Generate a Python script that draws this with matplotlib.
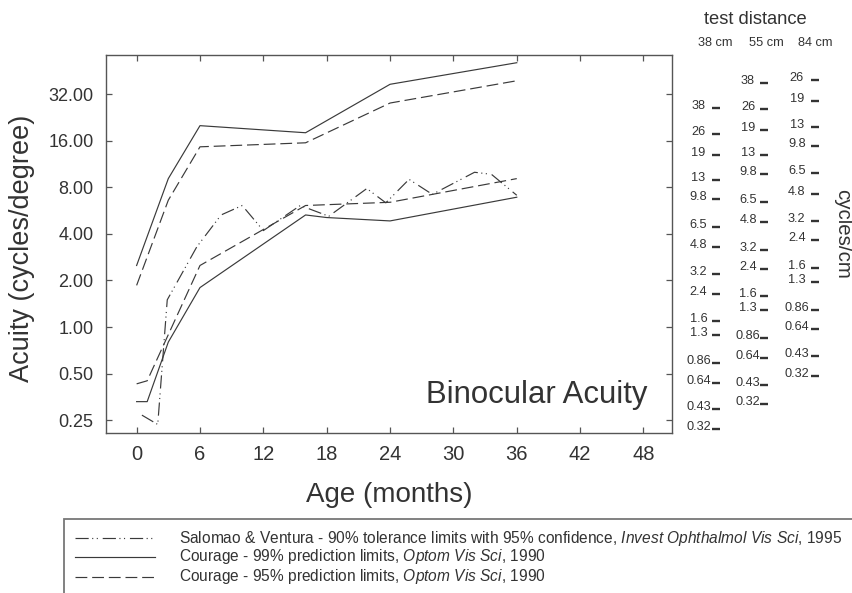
import numpy as np
import matplotlib
matplotlib.use("Agg")
import matplotlib.pyplot as plt
from matplotlib.lines import Line2D
from matplotlib.patches import Rectangle
import matplotlib.transforms as mtransforms

# ---------------- data ----------------
x_sv = [0.5, 2, 2.9, 5.7, 8, 10, 12, 15.5, 18.2, 21.8, 23.6, 25.8, 28, 32, 33.6, 36]
y_sv = [0.27, 0.235, 1.5, 3.3, 5.3, 6.1, 4.2, 6.1, 5.2, 7.85, 6.35, 9.0, 7.2, 10.0, 9.7, 7.1]

x_c99_up = [0, 3, 6, 16, 24, 36]
y_c99_up = [2.5, 9.1, 20.0, 18.0, 37.0, 51.0]
x_c99_lo = [0, 1, 3, 6, 16, 18, 24, 36]
y_c99_lo = [0.33, 0.33, 0.8, 1.8, 5.3, 5.1, 4.85, 6.9]

x_c95_up = [0, 3, 6, 16, 24, 36]
y_c95_up = [1.86, 6.6, 14.6, 15.5, 28.0, 39.0]
x_c95_lo = [0, 1, 6, 16, 24, 36]
y_c95_lo = [0.43, 0.45, 2.5, 6.1, 6.4, 9.1]

x_ticks = [0, 6, 12, 18, 24, 30, 36, 42, 48]
y_ticks = [0.25, 0.5, 1, 2, 4, 8, 16, 32]

distances = [38, 55, 84]
cm_38 = [38, 26, 19, 13, 9.8, 6.5, 4.8, 3.2, 2.4, 1.6, 1.3, 0.86, 0.64, 0.43, 0.32]
cm_55 = [38, 26, 19, 13, 9.8, 6.5, 4.8, 3.2, 2.4, 1.6, 1.3, 0.86, 0.64, 0.43, 0.32]
cm_84 = [26, 19, 13, 9.8, 6.5, 4.8, 3.2, 2.4, 1.6, 1.3, 0.86, 0.64, 0.43, 0.32]

legend_labels = [
    r"Salomao & Ventura - 90% tolerance limits with 95% confidence, $\mathit{Invest\ Ophthalmol\ Vis\ Sci}$, 1995",
    r"Courage - 99% prediction limits, $\mathit{Optom\ Vis\ Sci}$, 1990",
    r"Courage - 95% prediction limits, $\mathit{Optom\ Vis\ Sci}$, 1990",
]

# ---------------- style ----------------
plt.rcParams['font.family'] = ['Liberation Sans', 'DejaVu Sans']
plt.rcParams['mathtext.fontset'] = 'custom'
plt.rcParams['mathtext.rm'] = 'Liberation Sans'
plt.rcParams['mathtext.it'] = 'Liberation Sans:italic'
plt.rcParams['lines.scale_dashes'] = False

W, H = 852, 593
TXT = '#333333'
LC = '#3a3a3a'
LW = 0.85
ls_sv = (0, (9.5, 2.5, 0.8, 2.5, 0.8, 3.5))
ls_solid = '-'
ls_dash = (0, (8.5, 3.5))


def fx(px):
    return px / W


def fy(py):
    return 1 - py / H


fig = plt.figure(figsize=(W / 100, H / 100), dpi=100)
ax = fig.add_axes([fx(106), fy(433), (672 - 106) / W, (433 - 55) / H])

ax.plot(x_sv, y_sv, color=LC, lw=LW, linestyle=ls_sv)
ax.plot(x_c99_up, y_c99_up, color=LC, lw=LW, linestyle=ls_solid)
ax.plot(x_c99_lo, y_c99_lo, color=LC, lw=LW, linestyle=ls_solid)
ax.plot(x_c95_up, y_c95_up, color=LC, lw=LW, linestyle=ls_dash)
ax.plot(x_c95_lo, y_c95_lo, color=LC, lw=LW, linestyle=ls_dash)

ax.set_yscale('log', base=2)
ax.set_xlim(-2.9, 50.7)
ax.set_ylim(0.207, 57.2)
ax.set_xticks(x_ticks)
ax.set_xticklabels([str(t) for t in x_ticks])
ax.set_yticks(y_ticks)
ax.set_yticklabels([f"{t:.2f}" for t in y_ticks])
ax.minorticks_off()
ax.tick_params(axis='both', which='major', direction='in', length=4.5,
               width=0.9, color='#555555', labelcolor=TXT,
               top=True, right=True)
ax.tick_params(axis='x', labelsize=14.5, pad=9)
ax.tick_params(axis='y', labelsize=13, pad=9)
for sp in ax.spines.values():
    sp.set_color('#555555')
    sp.set_linewidth(1.0)

fig.text(fx(389), fy(495), 'Age (months)', fontsize=20, color=TXT,
         ha='center', va='center')
fig.text(fx(22), fy(248), 'Acuity (cycles/degree)', rotation=90, fontsize=19.5,
         color=TXT, ha='center', va='center')

fig.text(fx(648), fy(395), 'Binocular Acuity', fontsize=22.4, color=TXT,
         ha='right', va='center')

# ---------------- right-hand cycles/cm scales ----------------
blend = mtransforms.blended_transform_factory(fig.transFigure, ax.transData)
txt_off = mtransforms.ScaledTranslation(0, 4 / 100, fig.dpi_scale_trans)
dash_off = mtransforms.ScaledTranslation(0, 2 / 100, fig.dpi_scale_trans)
label_x = [698.5, 748, 796.7]
dash_x = [716, 764, 815]
for d, vals, lx, dx in zip(distances, [cm_38, cm_55, cm_84], label_x, dash_x):
    cpd = [v * d * np.tan(np.deg2rad(1.0)) for v in vals]
    for v, c in zip(vals, cpd):
        fig.text(fx(lx), c, f"{v:g}", transform=blend + txt_off, fontsize=9.2,
                 color=TXT, ha='center', va='center')
    ax.plot([fx(dx)] * len(cpd), cpd, linestyle='none', marker='_', markersize=5.5,
            mew=1.7, color='#333333', transform=blend + dash_off, clip_on=False)

fig.text(fx(755), fy(19), 'test distance', fontsize=13.2, color=TXT, ha='center', va='center')
for d, cx in zip(distances, [715.7, 766.7, 815]):
    fig.text(fx(cx), fy(43), f"{d} cm", fontsize=9.2, color=TXT, ha='center', va='center')
fig.text(fx(843), fy(234), 'cycles/cm', rotation=-90, fontsize=14.8, color=TXT,
         ha='center', va='center')

# ---------------- legend ----------------
fig.add_artist(Rectangle((fx(64), fy(605)), (900 - 64) / W, (605 - 519) / H,
                         transform=fig.transFigure, fill=False,
                         edgecolor='#777777', linewidth=1.3))
for lab, ls, ypx in zip(legend_labels, [ls_sv, ls_solid, ls_dash], [538, 557, 577]):
    fig.add_artist(Line2D([fx(75), fx(155)], [fy(ypx), fy(ypx)], color=LC,
                          lw=LW, linestyle=ls, transform=fig.transFigure))
    fig.text(fx(179), fy(ypx), lab, fontsize=11.2, color=TXT, ha='left', va='center')

fig.savefig('out.png', dpi=100)
